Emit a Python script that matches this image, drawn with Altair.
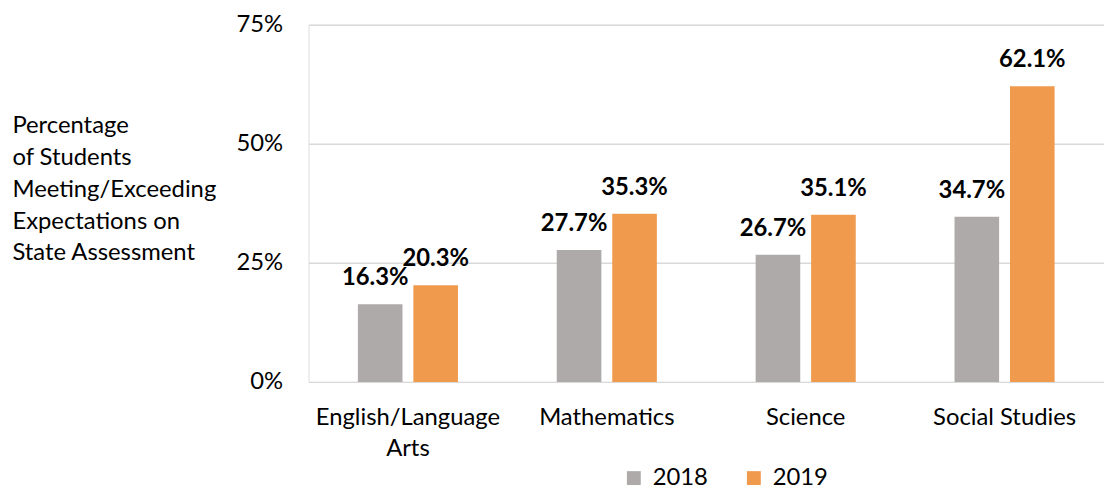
import altair as alt
import pandas as pd

subjects = ["English/Language Arts", "Mathematics", "Science", "Social Studies"]
years = ["2018", "2019"]
values_2018 = [16.3, 27.7, 26.7, 34.7]
values_2019 = [20.3, 35.3, 35.1, 62.1]
y_ticks = [0, 25, 50, 75]
y_title = ["Percentage", "of Students", "Meeting/Exceeding", "Expectations on", "State Assessment"]

rows = []
for s, a, b in zip(subjects, values_2018, values_2019):
    rows.append({"subject": s, "year": "2018", "value": a})
    rows.append({"subject": s, "year": "2019", "value": b})
df = pd.DataFrame(rows)

FONT = "Lato"
FS = 24
colors = ["#AEAAAA", "#F09A4E"]

x_enc = alt.X(
    "subject:N",
    sort=subjects,
    scale=alt.Scale(paddingInner=0, paddingOuter=0),
    axis=alt.Axis(
        title=None,
        labelAngle=0,
        labelFontSize=FS,
        labelFont=FONT,
        labelColor="#000000",
        labelPadding=24,
        labelBaseline="top",
        labelLineHeight=31,
        labelLimit=400,
        labelExpr="datum.value == 'English/Language Arts' ? ['English/Language', 'Arts'] : datum.label",
        domain=False,
        ticks=False,
        grid=False,
    ),
)
xoff = alt.XOffset(
    "year:N",
    sort=years,
    scale=alt.Scale(paddingInner=0.196, paddingOuter=0.89),
)
y_enc = alt.Y(
    "value:Q",
    scale=alt.Scale(domain=[0, 75], nice=False),
    axis=alt.Axis(
        values=y_ticks,
        labelExpr="datum.value + '%'",
        labelFontSize=FS,
        labelFont=FONT,
        labelColor="#000000",
        labelPadding=26,
        domain=False,
        ticks=False,
        grid=True,
        gridColor="#D9D9D9",
        gridWidth=1.5,
        title=y_title,
        titleAngle=0,
        titleAlign="left",
        titleBaseline="top",
        titleX=-299,
        titleY=90,
        titleFont=FONT,
        titleFontSize=FS,
        titleFontWeight="normal",
        titleColor="#000000",
        titleLineHeight=32,
    ),
)

bars = alt.Chart(df).mark_bar().encode(
    x=x_enc,
    xOffset=xoff,
    y=y_enc,
    color=alt.Color(
        "year:N",
        sort=years,
        scale=alt.Scale(domain=years, range=colors),
        legend=alt.Legend(
            title=None,
            orient="none",
            legendX=316,
            legendY=445,
            direction="horizontal",
            symbolType="square",
            symbolSize=196,
            symbolStrokeWidth=0,
            symbolOpacity=1,
            labelFont=FONT,
            labelFontSize=FS,
            labelColor="#000000",
            labelOffset=7,
            columnPadding=34,
            padding=0,
        ),
    ),
)

base_text = alt.Chart(df).transform_calculate(
    label="format(datum.value, '.1f') + '%'"
)
t2018 = base_text.transform_filter("datum.year == '2018'").mark_text(
    font=FONT, fontSize=FS, fontWeight="bold", baseline="alphabetic", dy=-19, dx=-5, color="#000000"
).encode(x=alt.X("subject:N", sort=subjects), xOffset=alt.XOffset("year:N", sort=years), y="value:Q", text="label:N")
t2019 = base_text.transform_filter("datum.year == '2019'").mark_text(
    font=FONT, fontSize=FS, fontWeight="bold", baseline="alphabetic", dy=-19, color="#000000"
).encode(x=alt.X("subject:N", sort=subjects), xOffset=alt.XOffset("year:N", sort=years), y="value:Q", text="label:N")

chart = alt.layer(bars, t2018, t2019).properties(
    width=802,
    height=360,
    autosize=alt.AutoSizeParams(type="none"),
    padding={"left": 311, "top": 23, "right": 0, "bottom": 106},
).configure_view(stroke=None).configure(background="#FFFFFF")

chart.save("out.html", embed_options={"renderer": "svg", "actions": False})
